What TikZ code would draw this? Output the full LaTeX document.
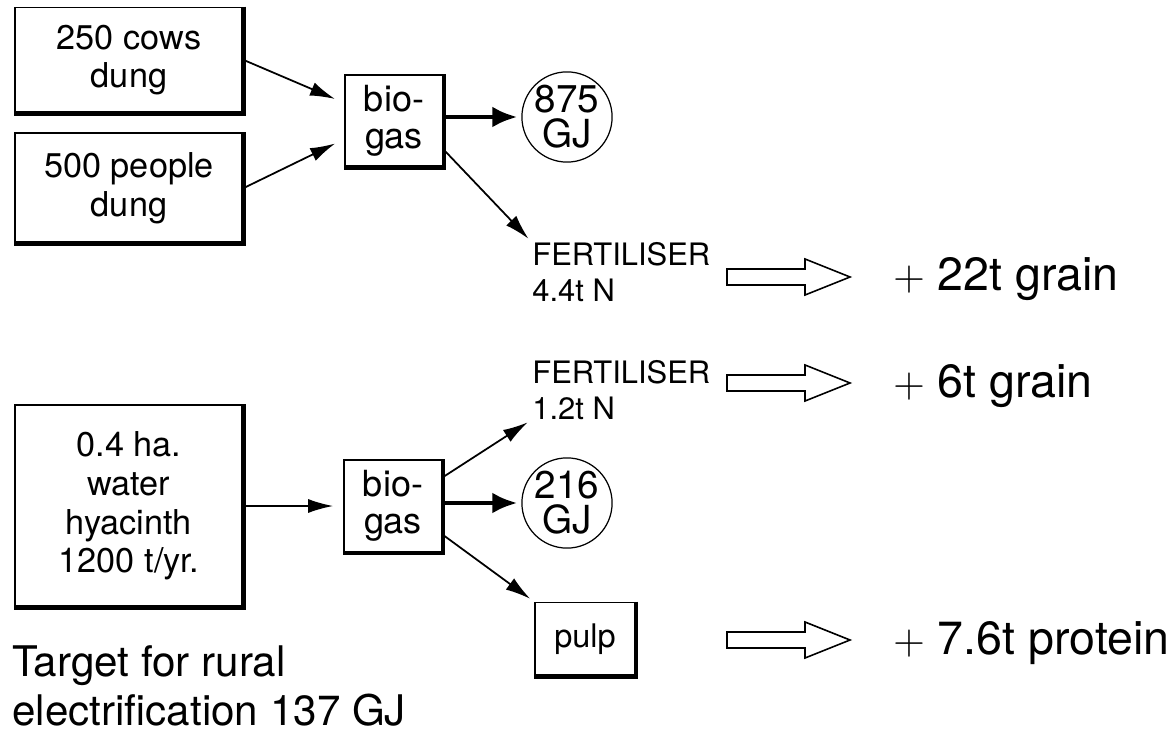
\documentclass[tikz,border=0pt]{standalone}
\usepackage{fontspec}
\setmainfont{TeX Gyre Heros}
\usetikzlibrary{arrows.meta}

\tikzset{
  box/.style={draw, line width=0.9pt, align=center, inner sep=0pt},
  srcbox/.style={box, minimum width=4.56cm, font=\fontsize{19.5}{22}\selectfont},
  gasbox/.style={box, minimum width=1.96cm, minimum height=1.84cm, font=\fontsize{20.5}{21}\selectfont},
  gj/.style={draw, circle, line width=0.7pt, minimum size=1.6cm, inner sep=0pt, align=center, font=\fontsize{22}{20}\selectfont},
  fert/.style={align=left, inner sep=0pt, font=\fontsize{17.6}{20}\selectfont},
  gain/.style={inner sep=0pt, font=\fontsize{26.5}{30}\selectfont},
  heavy/.style={line width=2.6pt},
  feed/.style={line width=1pt, -{Latex[length=0.5cm,width=0.28cm]}, shorten >=0.2cm},
  yield/.style={line width=2.6pt, -{Latex[length=0.5cm,width=0.42cm]}, shorten >=0.08cm},
  fatarrow/.pic={\draw[line width=0.9pt] (0,-8) -- (78,-8) -- (78,-18) -- (123,0) -- (78,18) -- (78,8) -- (0,8) -- cycle;}
}

\begin{document}
\begin{tikzpicture}[x=0.02cm, y=-0.02cm]
	\useasboundingbox (0,0) rectangle (1168,749);

	% upper plant
	\node[srcbox, minimum height=2.1cm] (cows) at (129,60) {250 cows\\dung};
	\node[srcbox, minimum height=2.2cm] (people) at (129,188) {500 people\\dung};
	\node[gasbox] (gasA) at (394,121) {bio-\\gas};
	\node[gj] (gjA) at (567,117) {875\\GJ};
	\node[fert, anchor=west] (fertA) at (532,272) {FERTILISER\\4.4t N};
	\pic at (727,277) {fatarrow};
	\node[gain, anchor=base west] (grainA) at (893,291) {$+$ 22t grain};

	\draw[feed] (cows.east) -- (gasA.160);
	\draw[feed] (people.east) -- (gasA.200);
	\draw[yield] (gasA.east |- gjA) -- (gjA.west);
	\draw[feed, shorten >=0.1cm] (gasA.-30) -- (fertA.north west);

	% lower plant
	\node[fert, anchor=west] (fertB) at (532,390) {FERTILISER\\1.2t N};
	\pic at (727,383) {fatarrow};
	\node[gain, anchor=base west] (grainB) at (893,397) {$+$ 6t grain};
	\node[srcbox, minimum height=4.04cm] (hyacinth) at (129,506) {0.4 ha.\\water\\hyacinth\\1200 t/yr.};
	\node[gasbox] (gasB) at (393,506) {bio-\\gas};
	\node[gj] (gjB) at (567,503) {216\\GJ};
	\node[box, minimum width=2cm, minimum height=1.46cm, font=\fontsize{18.5}{20}\selectfont] (pulp) at (585,639) {pulp};
	\pic at (727,640) {fatarrow};
	\node[gain, anchor=base west] (protein) at (893,654) {$+$ 7.6t protein};

	\draw[feed] (hyacinth.east) -- (gasB.west);
	\draw[feed, shorten >=0.1cm] (gasB.30) -- (fertB.south west);
	\draw[yield] (gasB.east |- gjB) -- (gjB.west);
	\draw[feed, shorten >=0.1cm] (gasB.-30) -- (pulp.north west);

	\foreach \n in {cows,people,gasA,hyacinth,gasB,pulp}
		\draw[heavy] (\n.north east) -- (\n.south east) -- (\n.south west);

	\node[anchor=north west, align=left, inner sep=0pt, font=\fontsize{24}{28}\selectfont] (target) at (12,645) {Target for rural\\electrification 137 GJ};
\end{tikzpicture}
\end{document}
